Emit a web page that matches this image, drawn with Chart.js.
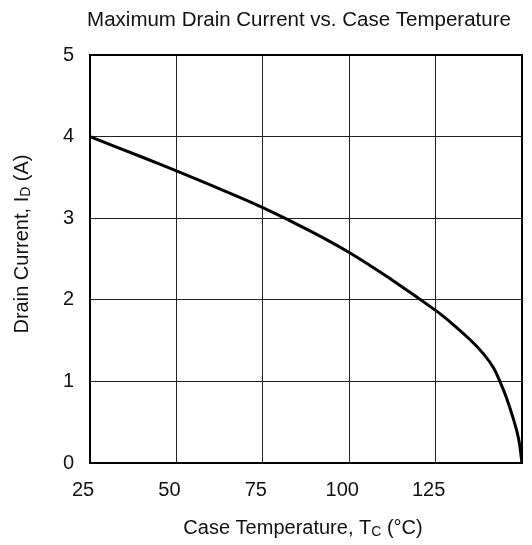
<!DOCTYPE html>
<html>
<head>
<meta charset="utf-8">
<script src="https://cdn.jsdelivr.net/npm/chart.js@4"></script>
<style>
  body { margin: 0; background: #fff; }
  canvas { display: block; }
</style>
</head>
<body>
<canvas id="chart" width="532" height="545"></canvas>
<script>
// values
const caseTemp = [25, 40, 50, 62.5, 75, 87.5, 100, 112.5, 125, 130, 135, 138.8, 141.7, 143.6, 145.5, 147.5, 149, 150];
const drainCurrent = [4.0, 3.75, 3.58, 3.36, 3.13, 2.87, 2.58, 2.24, 1.87, 1.70, 1.51, 1.34, 1.17, 1.0, 0.8, 0.54, 0.3, 0];
const xTicks = [25, 50, 75, 100, 125];

const chartTitle = 'Maximum Drain Current vs. Case Temperature';
const FONT = '"Liberation Sans", Arial, sans-serif';

// draws text pieces centred on x, subscript pieces smaller and lower
function drawSubText(ctx, parts, x, y) {
    let total = 0;
    parts.forEach(p => {
        ctx.font = (p.sub ? 14 : 20) + 'px ' + FONT;
        total += ctx.measureText(p.t).width;
    });
    let cx = x - total / 2;
    parts.forEach(p => {
        ctx.font = (p.sub ? 14 : 20) + 'px ' + FONT;
        ctx.fillText(p.t, cx, p.sub ? y + 4 : y);
        cx += ctx.measureText(p.t).width;
    });
}

const labelsPlugin = {
    id: 'labels',
    afterDraw(chart) {
        const ctx = chart.ctx;
        const a = chart.chartArea;
        ctx.save();
        ctx.fillStyle = '#111';
        ctx.textAlign = 'left';
        ctx.textBaseline = 'middle';

        ctx.font = '20.5px ' + FONT;
        const tw = ctx.measureText(chartTitle).width;
        ctx.fillText(chartTitle, 299 - tw / 2, 20);

        drawSubText(ctx, [
            { t: 'Case Temperature, T' }, { t: 'C', sub: true }, { t: ' (°C)' }
        ], 303, 528);

        ctx.translate(22, 244);
        ctx.rotate(-Math.PI / 2);
        drawSubText(ctx, [
            { t: 'Drain Current, I' }, { t: 'D', sub: true }, { t: ' (A)' }
        ], 0, 0);
        ctx.restore();

        // plot frame
        ctx.save();
        ctx.strokeStyle = '#000';
        ctx.lineWidth = 2;
        ctx.strokeRect(a.left, a.top, a.right - a.left, a.bottom - a.top);
        ctx.restore();
    }
};

chart = new Chart(document.getElementById('chart'), {
    type: 'line',
    data: {
        datasets: [{
            data: caseTemp.map((t, i) => ({ x: t, y: drainCurrent[i] })),
            borderColor: '#000',
            borderWidth: 3,
            pointRadius: 0,
            tension: 0.4,
            fill: false
        }]
    },
    options: {
        responsive: false,
        animation: false,
        layout: { padding: { top: 55, right: 10, left: 0, bottom: 0 } },
        plugins: { legend: { display: false }, tooltip: { enabled: false } },
        scales: {
            x: {
                type: 'linear',
                min: 25,
                max: 150,
                afterBuildTicks: axis => {
                    axis.ticks = [25, 50, 75, 100, 125, 150].map(v => ({ value: v }));
                },
                afterFit: axis => {
                    axis.height = 82;
                    axis.paddingLeft = 0;
                    axis.paddingRight = 0;
                },
                grid: { color: '#222', lineWidth: 1, drawTicks: false },
                border: { display: false },
                ticks: {
                    padding: 15,
                    labelOffset: -7,
                    color: '#111',
                    font: { family: FONT, size: 20 },
                    callback: v => xTicks.includes(v) ? String(v) : ''
                }
            },
            y: {
                min: 0,
                max: 5,
                afterFit: axis => { axis.width = 90; },
                grid: { color: '#222', lineWidth: 1, drawTicks: false },
                border: { display: false },
                ticks: {
                    stepSize: 1,
                    padding: 16,
                    color: '#111',
                    font: { family: FONT, size: 20 }
                }
            }
        }
    },
    plugins: [labelsPlugin]
});
</script>
</body>
</html>
